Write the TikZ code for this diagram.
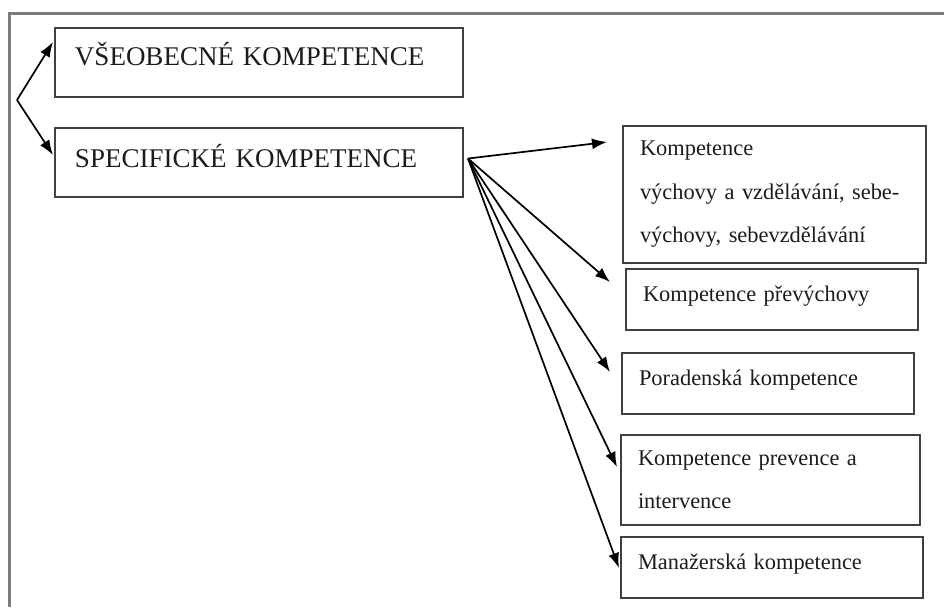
\documentclass[tikz,border=0pt]{standalone}
\usepackage{fontspec}
\setmainfont{Liberation Serif}
\usetikzlibrary{positioning,arrows.meta}
\definecolor{frame_gray}{HTML}{7C7C7C}
\definecolor{box_gray}{HTML}{404040}
\definecolor{ink_dark}{HTML}{1C1C1C}

\begin{document}
\begin{tikzpicture}[x=0.5pt, y=-0.5pt,
  bigbox/.style={rectangle, draw = box_gray, line width = 1.2pt, anchor = north west, align = left, text = ink_dark, inner xsep = 10pt, inner ysep = 0pt, outer sep = 0pt, text width = 184pt, minimum height = 34.5pt, font = {\fontsize{13.5pt}{16pt}\selectfont}},
  kbox/.style={rectangle, draw = box_gray, line width = 1.2pt, anchor = north west, align = left, text = ink_dark, inner xsep = 8.5pt, inner ysep = 0pt, outer sep = 0pt, font = {\fontsize{11.2pt}{21.75pt}\selectfont}},
  oneline/.style={text height = 8pt, text depth = 6pt},
  tip/.style={-{Latex[length = 7.5pt, width = 5.5pt]}, line width = 0.85pt}]
\useasboundingbox (0,0) rectangle (944,607);
\draw [frame_gray, line width = 1.5pt] (944,13) -- (9,13) -- (9,607);
\node (Vseob) [bigbox, text height = 9pt, text depth = 6.5pt] at (55,28) {VŠEOBECNÉ KOMPETENCE};
\node (Spec) [bigbox, text height = 10pt, text depth = 5.5pt] at (55,128) {SPECIFICKÉ KOMPETENCE};
\node (Vychova) [kbox, text width = 134.5pt, minimum height = 68.5pt] at (623,126) {Kompetence\\výchovy a vzdělávání, sebe-\\výchovy, sebevzdělávání};
\node (Prevychova) [kbox, oneline, text width = 129pt, minimum height = 30.5pt] at (626,269) {Kompetence převýchovy};
\node (Poradenska) [kbox, oneline, text width = 129pt, minimum height = 30.5pt] at (622,353) {Poradenská kompetence};
\node (Prevence) [kbox, text width = 132.5pt, minimum height = 45pt] at (621,435) {Kompetence prevence a\\intervence};
\node (Manazerska) [kbox, oneline, text width = 134pt, minimum height = 30.5pt] at (621,537) {Manažerská kompetence};
% free ends of the arrows
\coordinate (fork) at (17,100);
\coordinate (fan) at ([xshift = 2.5pt, yshift = 2pt]Spec.east);
\coordinate (tVseob) at (53,42);
\coordinate (tSpec) at (53,155);
\coordinate (tVychova) at (607,142);
\coordinate (tPrevychova) at (610,282);
\coordinate (tPoradenska) at (610,372);
\coordinate (tPrevence) at (617,467);
\coordinate (tManazerska) at (619,568);
\path [tip] (fork) edge (tVseob) (fork) edge (tSpec);
\path [tip] (fan) edge (tVychova) (fan) edge (tPrevychova) (fan) edge (tPoradenska);
\path [tip] (fan) edge (tPrevence) (fan) edge (tManazerska);
\end{tikzpicture}
\end{document}
